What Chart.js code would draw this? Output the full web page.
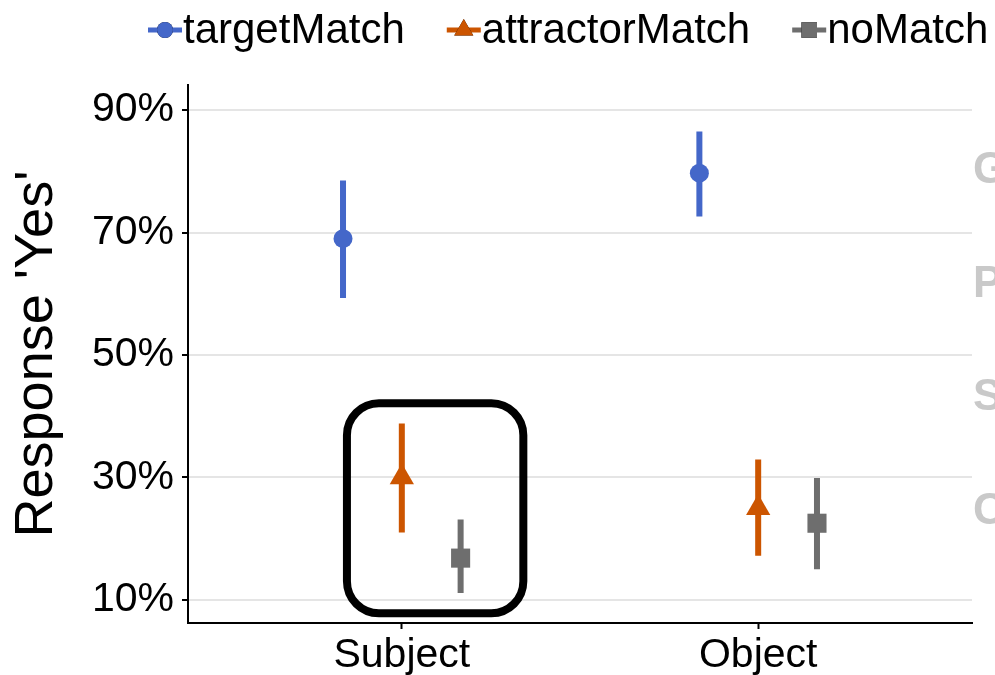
<!DOCTYPE html>
<html>
<head>
<meta charset="utf-8">
<script src="https://cdn.jsdelivr.net/npm/chart.js@4/dist/chart.umd.min.js"></script>
<style>
  html, body { margin: 0; padding: 0; background: #fff; }
  #wrap { width: 995px; height: 675px; }
</style>
</head>
<body>
<div id="wrap"><canvas id="chart" width="995" height="675"></canvas></div>
<script>
// categories on the x axis
const categories = ['Subject', 'Object'];
const seriesNames = ['targetMatch', 'attractorMatch', 'noMatch'];
const seriesColors = ['#4467c9', '#cc5500', '#6e6e6e'];
const seriesShapes = ['circle', 'triangle', 'rect'];

// mean and interval per series, one value per category
const targetMean = [69.0, 79.7];
const targetLow = [59.3, 72.6];
const targetHigh = [78.5, 86.5];

const attractorMean = [30.0, 25.0];
const attractorLow = [21.0, 17.2];
const attractorHigh = [38.8, 32.9];

const noMatchMean = [16.8, 22.5];
const noMatchLow = [11.1, 15.0];
const noMatchHigh = [23.1, 29.9];

const yTicks = [10, 30, 50, 70, 90];
const dodge = [-0.165, 0, 0.165];

// highlight box around Subject attractor/noMatch (data units)
const highlightBox = { xMin: 0.846, xMax: 1.341, yMin: 7.8, yMax: 42.1 };

// faded letters cut at the right edge
const sideLetters = ['G', 'P', 'S', 'C'];

const means = [targetMean, attractorMean, noMatchMean];
const lows = [targetLow, attractorLow, noMatchLow];
const highs = [targetHigh, attractorHigh, noMatchHigh];
const pointSizes = [9.5, 14, 13.5];
const FONT = '"Liberation Sans", Arial, sans-serif';

const datasets = [];
seriesNames.forEach((name, s) => {
    datasets.push({
        label: name,
        type: 'scatter',
        data: categories.map((c, j) => ({ x: j + 1 + dodge[s], y: means[s][j] })),
        pointStyle: seriesShapes[s],
        pointRadius: pointSizes[s],
        pointHoverRadius: pointSizes[s],
        backgroundColor: seriesColors[s],
        borderColor: seriesColors[s],
        borderWidth: 0,
        order: 0
    });
});
seriesNames.forEach((name, s) => {
    const pts = [];
    categories.forEach((c, j) => {
        const x = j + 1 + dodge[s];
        pts.push({ x: x, y: lows[s][j] }, { x: x, y: highs[s][j] }, { x: x, y: null });
    });
    datasets.push({
        label: name + ' interval',
        type: 'line',
        data: pts,
        borderColor: seriesColors[s],
        borderWidth: 6,
        borderCapStyle: 'butt',
        pointRadius: 0,
        spanGaps: false,
        fill: false,
        order: 1
    });
});

const extras = {
    id: 'extras',
    afterDatasetsDraw(chart) {
        const ctx = chart.ctx;
        const xs = chart.scales.x, ys = chart.scales.y;
        // highlight box
        const x0 = xs.getPixelForValue(highlightBox.xMin);
        const x1 = xs.getPixelForValue(highlightBox.xMax);
        const y0 = ys.getPixelForValue(highlightBox.yMax);
        const y1 = ys.getPixelForValue(highlightBox.yMin);
        ctx.save();
        ctx.lineWidth = 8;
        ctx.strokeStyle = '#000';
        ctx.beginPath();
        ctx.roundRect(x0, y0, x1 - x0, y1 - y0, 32);
        ctx.stroke();
        ctx.restore();
    },
    afterDraw(chart) {
        const ctx = chart.ctx;
        ctx.save();
        // legend
        ctx.font = '42px ' + FONT;
        ctx.textBaseline = 'middle';
        let x = 148;
        const y = 30;
        seriesNames.forEach((name, s) => {
            ctx.strokeStyle = seriesColors[s];
            ctx.lineWidth = 5;
            ctx.beginPath();
            ctx.moveTo(x, y);
            ctx.lineTo(x + 34, y);
            ctx.stroke();
            Chart.helpers.drawPoint(ctx, {
                pointStyle: seriesShapes[s],
                radius: s === 0 ? 8 : 11,
                borderWidth: 0
            }, x + 17, y);
            ctx.fillStyle = seriesColors[s];
            ctx.fill();
            ctx.fillStyle = '#000';
            ctx.fillText(name, x + 35, y + 1);
            x += 35 + ctx.measureText(name).width + 42;
        });
        // faded side letters
        ctx.font = 'bold 44px ' + FONT;
        ctx.fillStyle = '#c9c9c9';
        ctx.textBaseline = 'middle';
        sideLetters.forEach((l, i) => {
            ctx.fillText(l, 973, 171 + i * 113.5);
        });
        ctx.restore();
    }
};

new Chart(document.getElementById('chart').getContext('2d'), {
    type: 'scatter',
    data: { datasets: datasets },
    options: {
        responsive: false,
        animation: false,
        events: [],
        layout: { padding: { top: 85, right: 23, left: 0, bottom: 0 } },
        plugins: {
            legend: { display: false },
            tooltip: { enabled: false }
        },
        scales: {
            x: {
                type: 'linear',
                min: 0.4,
                max: 2.6,
                afterBuildTicks: (scale) => {
                    scale.ticks = categories.map((c, i) => ({ value: i + 1 }));
                },
                afterFit: (scale) => { scale.height = 52; },
                ticks: {
                    callback: (v) => categories[v - 1],
                    color: '#000',
                    font: { size: 41, family: FONT },
                    padding: 2,
                    maxRotation: 0
                },
                grid: { drawOnChartArea: false, tickColor: '#000', tickLength: 6, tickWidth: 2 },
                border: { color: '#000', width: 2 }
            },
            y: {
                min: 6.2,
                max: 94.1,
                afterBuildTicks: (scale) => {
                    scale.ticks = yTicks.map(v => ({ value: v }));
                },
                afterFit: (scale) => { scale.width = 188; },
                ticks: {
                    callback: (v) => v + '%',
                    color: '#000',
                    font: { size: 41, family: FONT },
                    padding: 8
                },
                grid: { color: '#e5e5e5', lineWidth: 2, tickColor: '#000', tickLength: 6, tickWidth: 2 },
                border: { color: '#000', width: 2 },
                title: {
                    display: true,
                    text: "Response 'Yes'",
                    color: '#000',
                    font: { size: 54, family: FONT },
                    padding: { top: 5, bottom: 0 }
                }
            }
        }
    },
    plugins: [extras]
});
</script>
</body>
</html>
